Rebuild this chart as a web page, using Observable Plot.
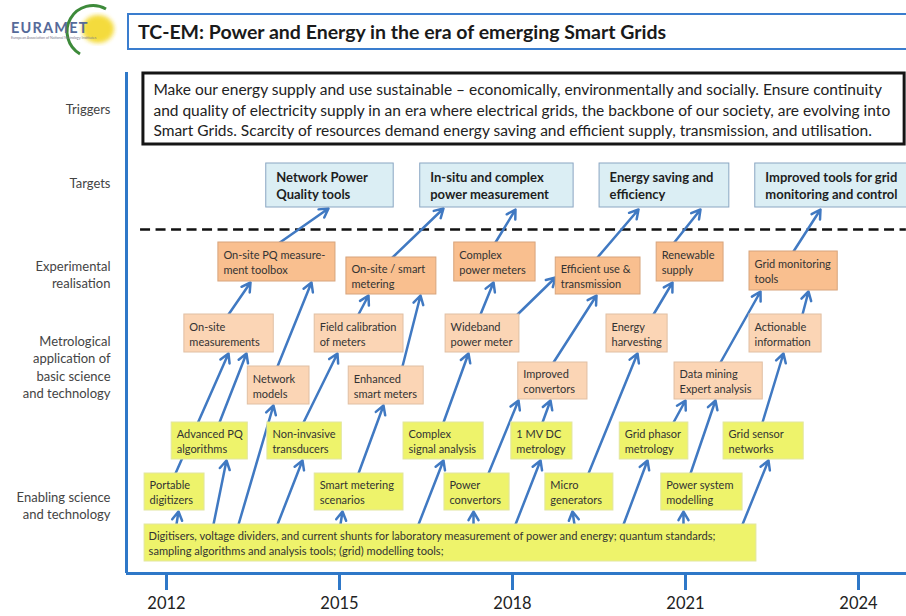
<!DOCTYPE html>
<html>
<head>
<meta charset="utf-8">
<script src="https://cdn.jsdelivr.net/npm/d3@7"></script>
<script src="https://cdn.jsdelivr.net/npm/@observablehq/plot@0.6"></script>
<style>
html, body { margin: 0; padding: 0; background: #fff; overflow: hidden; width: 906px; height: 616px; }
#page { position: relative; width: 906px; height: 616px; overflow: hidden; font-family: Lato, sans-serif; }
#logo { position: absolute; left: 0; top: 0; }
#title { position: absolute; left: 127px; top: 13px; width: 820px; height: 33px; border: 2px solid #3a7dce;
  font-weight: bold; font-size: 19.5px; line-height: 33px; padding-left: 9px; color: #1a1a1a; }
#chart { position: absolute; left: 0; top: 62px; }
</style>
</head>
<body>
<div id="page">
  <svg id="logo" width="125" height="62" viewBox="0 0 125 62">
    <defs><filter id="blur"><feGaussianBlur stdDeviation="2"/></filter></defs>
    <ellipse cx="98" cy="29" rx="16" ry="14" fill="#f3d51c" opacity="0.85" filter="url(#blur)"/>
    <path d="M106,9 A24,24 0 0 0 80,54" fill="none" stroke="#3d8a3a" stroke-width="3"/>
    <text x="11" y="33" font-family="Lato, sans-serif" font-size="14.5" font-weight="bold" fill="#566a99" letter-spacing="1.2">EURAMET</text>
    <text x="11" y="38.5" font-family="Lato, sans-serif" font-size="3.6" fill="#7a7a8a">European Association of National Metrology Institutes</text>
  </svg>
  <div id="title">TC-EM: Power and Energy in the era of emerging Smart Grids</div>
  <div id="chart"></div>
</div>
<script>
// ---- data -----------------------------------------------------------
const years = [2012, 2015, 2018, 2021, 2024];

const rowLabels = [
  {label: "Triggers", y: 108},
  {label: "Targets", y: 182},
  {label: "Experimental\nrealisation", y: 273.5},
  {label: "Metrological\napplication of\nbasic science\nand technology", y: 366},
  {label: "Enabling science\nand technology", y: 504.5}
];

const triggerBox = [{x1: 2011.60, x2: 2024.80, y1: 73, y2: 144,
  label: "Make our energy supply and use sustainable \u2013 economically, environmentally and socially. Ensure continuity\nand quality of electricity supply in an era where electrical grids, the backbone of our society, are evolving into\nSmart Grids. Scarcity of resources demand energy saving and efficient supply, transmission, and utilisation."}];

const divider = [{y: 229, x1: 2011.55, x2: 2024.83}];

const targetBoxes = [
  {label: "Network Power\nQuality tools", x1: 2013.73, x2: 2015.94, y1: 163, y2: 207},
  {label: "In-situ and complex\npower measurement", x1: 2016.40, x2: 2019.06, y1: 163, y2: 207},
  {label: "Energy saving and\nefficiency", x1: 2019.51, x2: 2021.76, y1: 163, y2: 207},
  {label: "Improved tools for grid\nmonitoring and control", x1: 2022.21, x2: 2025.10, y1: 163, y2: 207}
];

const realisationBoxes = [
  {label: "On-site PQ measure-\nment toolbox", x1: 2012.90, x2: 2014.93, y1: 242, y2: 281},
  {label: "On-site / smart\nmetering", x1: 2015.12, x2: 2016.68, y1: 257, y2: 294},
  {label: "Complex\npower meters", x1: 2016.99, x2: 2018.40, y1: 242, y2: 281},
  {label: "Efficient use &\ntransmission", x1: 2018.75, x2: 2020.22, y1: 257, y2: 294},
  {label: "Renewable\nsupply", x1: 2020.50, x2: 2021.66, y1: 242, y2: 281},
  {label: "Grid monitoring\ntools", x1: 2022.11, x2: 2023.64, y1: 251, y2: 290}
];

const applicationBoxes = [
  {label: "On-site\nmeasurements", x1: 2012.31, x2: 2013.86, y1: 314, y2: 352},
  {label: "Network\nmodels", x1: 2013.41, x2: 2014.48, y1: 366, y2: 404},
  {label: "Field calibration\nof meters", x1: 2014.57, x2: 2016.11, y1: 314, y2: 352},
  {label: "Enhanced\nsmart meters", x1: 2015.16, x2: 2016.46, y1: 366, y2: 404},
  {label: "Wideband\npower meter", x1: 2016.84, x2: 2018.12, y1: 314, y2: 352},
  {label: "Improved\nconvertors", x1: 2018.10, x2: 2019.30, y1: 362, y2: 399},
  {label: "Energy\nharvesting", x1: 2019.63, x2: 2020.69, y1: 314, y2: 352},
  {label: "Data mining\nExpert analysis", x1: 2020.81, x2: 2022.34, y1: 362, y2: 399},
  {label: "Actionable\ninformation", x1: 2022.11, x2: 2023.36, y1: 314, y2: 352}
];

const enablingBoxes = [
  {label: "Advanced PQ\nalgorithms", x1: 2012.09, x2: 2013.41, y1: 422, y2: 459},
  {label: "Non-invasive\ntransducers", x1: 2013.75, x2: 2015.04, y1: 422, y2: 459},
  {label: "Complex\nsignal analysis", x1: 2016.11, x2: 2017.50, y1: 422, y2: 459},
  {label: "1 MV DC\nmetrology", x1: 2017.98, x2: 2019.04, y1: 422, y2: 459},
  {label: "Grid phasor\nmetrology", x1: 2019.86, x2: 2021.05, y1: 422, y2: 459},
  {label: "Grid sensor\nnetworks", x1: 2021.66, x2: 2023.05, y1: 422, y2: 459},
  {label: "Portable\ndigitizers", x1: 2011.62, x2: 2012.66, y1: 473, y2: 510},
  {label: "Smart metering\nscenarios", x1: 2014.57, x2: 2016.11, y1: 473, y2: 510},
  {label: "Power\nconvertors", x1: 2016.82, x2: 2017.95, y1: 473, y2: 510},
  {label: "Micro\ngenerators", x1: 2018.57, x2: 2019.75, y1: 473, y2: 510},
  {label: "Power system\nmodelling", x1: 2020.58, x2: 2021.99, y1: 473, y2: 510}
];

const baseBox = [{label: "Digitisers, voltage dividers, and current shunts for laboratory measurement of power and energy; quantum standards;\nsampling algorithms and analysis tools; (grid) modelling tools;",
  x1: 2011.62, x2: 2022.23, y1: 524, y2: 561}];

// links: start (x1,y1) -> end (x2,y2)
const links = [
  {x1: 2013.942, y1: 243, x2: 2014.809, y2: 208},
  {x1: 2015.919, y1: 257, x2: 2016.803, y2: 208},
  {x1: 2017.705, y1: 242, x2: 2018.052, y2: 209},
  {x1: 2019.474, y1: 257, x2: 2020.185, y2: 209},
  {x1: 2020.792, y1: 243, x2: 2021.260, y2: 209},
  {x1: 2022.873, y1: 251, x2: 2023.341, y2: 209},
  {x1: 2013.075, y1: 314, x2: 2013.457, y2: 282},
  {x1: 2013.925, y1: 366, x2: 2014.514, y2: 282},
  {x1: 2015.329, y1: 314, x2: 2015.503, y2: 295},
  {x1: 2016.092, y1: 366, x2: 2016.405, y2: 295},
  {x1: 2017.445, y1: 314, x2: 2017.671, y2: 282},
  {x1: 2018.087, y1: 314, x2: 2018.746, y2: 277},
  {x1: 2018.711, y1: 362, x2: 2019.457, y2: 295},
  {x1: 2020.445, y1: 314, x2: 2020.775, y2: 282},
  {x1: 2021.607, y1: 362, x2: 2022.301, y2: 291},
  {x1: 2023.029, y1: 314, x2: 2023.133, y2: 291},
  {x1: 2012.156, y1: 473, x2: 2013.075, y2: 353},
  {x1: 2012.919, y1: 422, x2: 2013.387, y2: 353},
  {x1: 2013.249, y1: 524, x2: 2013.855, y2: 405},
  {x1: 2014.376, y1: 422, x2: 2014.965, y2: 353},
  {x1: 2015.329, y1: 473, x2: 2015.763, y2: 405},
  {x1: 2016.803, y1: 422, x2: 2017.237, y2: 353},
  {x1: 2017.584, y1: 473, x2: 2018.104, y2: 400},
  {x1: 2018.520, y1: 422, x2: 2018.659, y2: 400},
  {x1: 2019.318, y1: 473, x2: 2020.168, y2: 353},
  {x1: 2020.792, y1: 422, x2: 2021.000, y2: 400},
  {x1: 2021.087, y1: 473, x2: 2021.520, y2: 400},
  {x1: 2022.335, y1: 422, x2: 2022.699, y2: 353},
  {x1: 2012.173, y1: 524, x2: 2012.208, y2: 511},
  {x1: 2012.815, y1: 524, x2: 2013.040, y2: 460},
  {x1: 2013.925, y1: 524, x2: 2014.358, y2: 460},
  {x1: 2015.017, y1: 524, x2: 2015.052, y2: 511},
  {x1: 2016.370, y1: 524, x2: 2016.803, y2: 460},
  {x1: 2017.324, y1: 524, x2: 2017.324, y2: 511},
  {x1: 2018.052, y1: 524, x2: 2018.486, y2: 460},
  {x1: 2019.075, y1: 524, x2: 2019.040, y2: 511},
  {x1: 2019.925, y1: 524, x2: 2020.341, y2: 460},
  {x1: 2020.965, y1: 524, x2: 2020.965, y2: 511},
  {x1: 2021.988, y1: 524, x2: 2022.439, y2: 460}
];

// ---- chart ------------------------------------------------------------
const timeDomain = [2011.3064, 2024.8324];
const blue = "#2f78c8";
const arrowBlue = "#4079c2";

// short links are extended backwards (hidden behind the source box) so the head keeps its size
const linkRows = links.map(d => {
  const dy = Math.abs(d.y2 - d.y1);
  const k = dy < 16 ? 2 : dy < 30 ? 1 : 0;
  return {...d, sx: d.x1 - (d.x2 - d.x1) * k, sy: d.y1 - (d.y2 - d.y1) * k};
});

function boxMarks(data, o) {
  return [
    Plot.rect(data, {x1: "x1", x2: "x2", y1: "y1", y2: "y2", fill: o.fill, stroke: o.stroke, strokeWidth: o.strokeWidth ?? 1}),
    Plot.text(data, {x: "x1", y: d => (d.y1 + d.y2) / 2, text: "label", dx: o.pad, textAnchor: "start",
      lineAnchor: "middle", lineHeight: o.lineHeight ?? 1.3, fontSize: o.fontSize, fontWeight: o.fontWeight ?? "normal", fill: o.color ?? "#333"})
  ];
}

const chart = Plot.plot({
  width: 906,
  height: 554,
  marginLeft: 126,
  marginRight: 0,
  marginTop: 10,
  marginBottom: 43,
  style: {fontFamily: "Lato, sans-serif", background: "white", overflow: "visible"},
  x: {domain: timeDomain},
  y: {domain: [72, 573], reverse: true, axis: null},
  marks: [
    // trigger box
    Plot.rect(triggerBox, {x1: "x1", x2: "x2", y1: "y1", y2: "y2", fill: "white", stroke: "#151515", strokeWidth: 3}),
    Plot.text(triggerBox, {x: "x1", y: d => (d.y1 + d.y2) / 2, text: "label", dx: 10, textAnchor: "start",
      lineAnchor: "middle", lineHeight: 1.32, fontSize: 15.5, fill: "#222"}),
    // dashed divider
    Plot.ruleY(divider, {y: "y", x1: "x1", x2: "x2", stroke: "#111", strokeWidth: 2.5, strokeDasharray: "10,5.5"}),
    // arrows (under boxes)
    Plot.arrow(linkRows, {x1: "sx", y1: "sy", x2: "x2", y2: "y2", stroke: arrowBlue, strokeWidth: 2.5, headLength: 6, headAngle: 60}),
    // boxes
    ...boxMarks(targetBoxes, {fill: "#dbeef4", stroke: "#8aa6c2", pad: 10, fontSize: 13, fontWeight: "bold", color: "#1e1e1e", lineHeight: 1.3}),
    ...boxMarks(realisationBoxes, {fill: "#f9bf8f", stroke: "#d7a47c", pad: 5, fontSize: 11}),
    ...boxMarks(applicationBoxes, {fill: "#fbd5b5", stroke: "#e0bfa3", pad: 5, fontSize: 11, lineHeight: 1.36}),
    ...boxMarks(enablingBoxes, {fill: "#eef36b", stroke: "#e2e6a0", pad: 5, fontSize: 11}),
    ...boxMarks(baseBox, {fill: "#eef36b", stroke: "#e2e6a0", pad: 4, fontSize: 11.1, lineHeight: 1.28}),
    // row labels
    Plot.text(rowLabels, {y: "y", text: "label", frameAnchor: "left", dx: -16, textAnchor: "end",
      lineAnchor: "middle", lineHeight: 1.35, fontSize: 13, fill: "#444"}),
    // timeline frame
    Plot.ruleX([timeDomain[0]], {stroke: blue, strokeWidth: 3}),
    Plot.ruleY([573], {stroke: blue, strokeWidth: 3}),
    Plot.axisX({ticks: years, tickFormat: d => String(d), tickSize: 17, tickPadding: 7, stroke: blue,
      strokeWidth: 3, fontSize: 16.5, fill: "#222", label: null})
  ]
});
document.getElementById("chart").appendChild(chart);
</script>
</body>
</html>
